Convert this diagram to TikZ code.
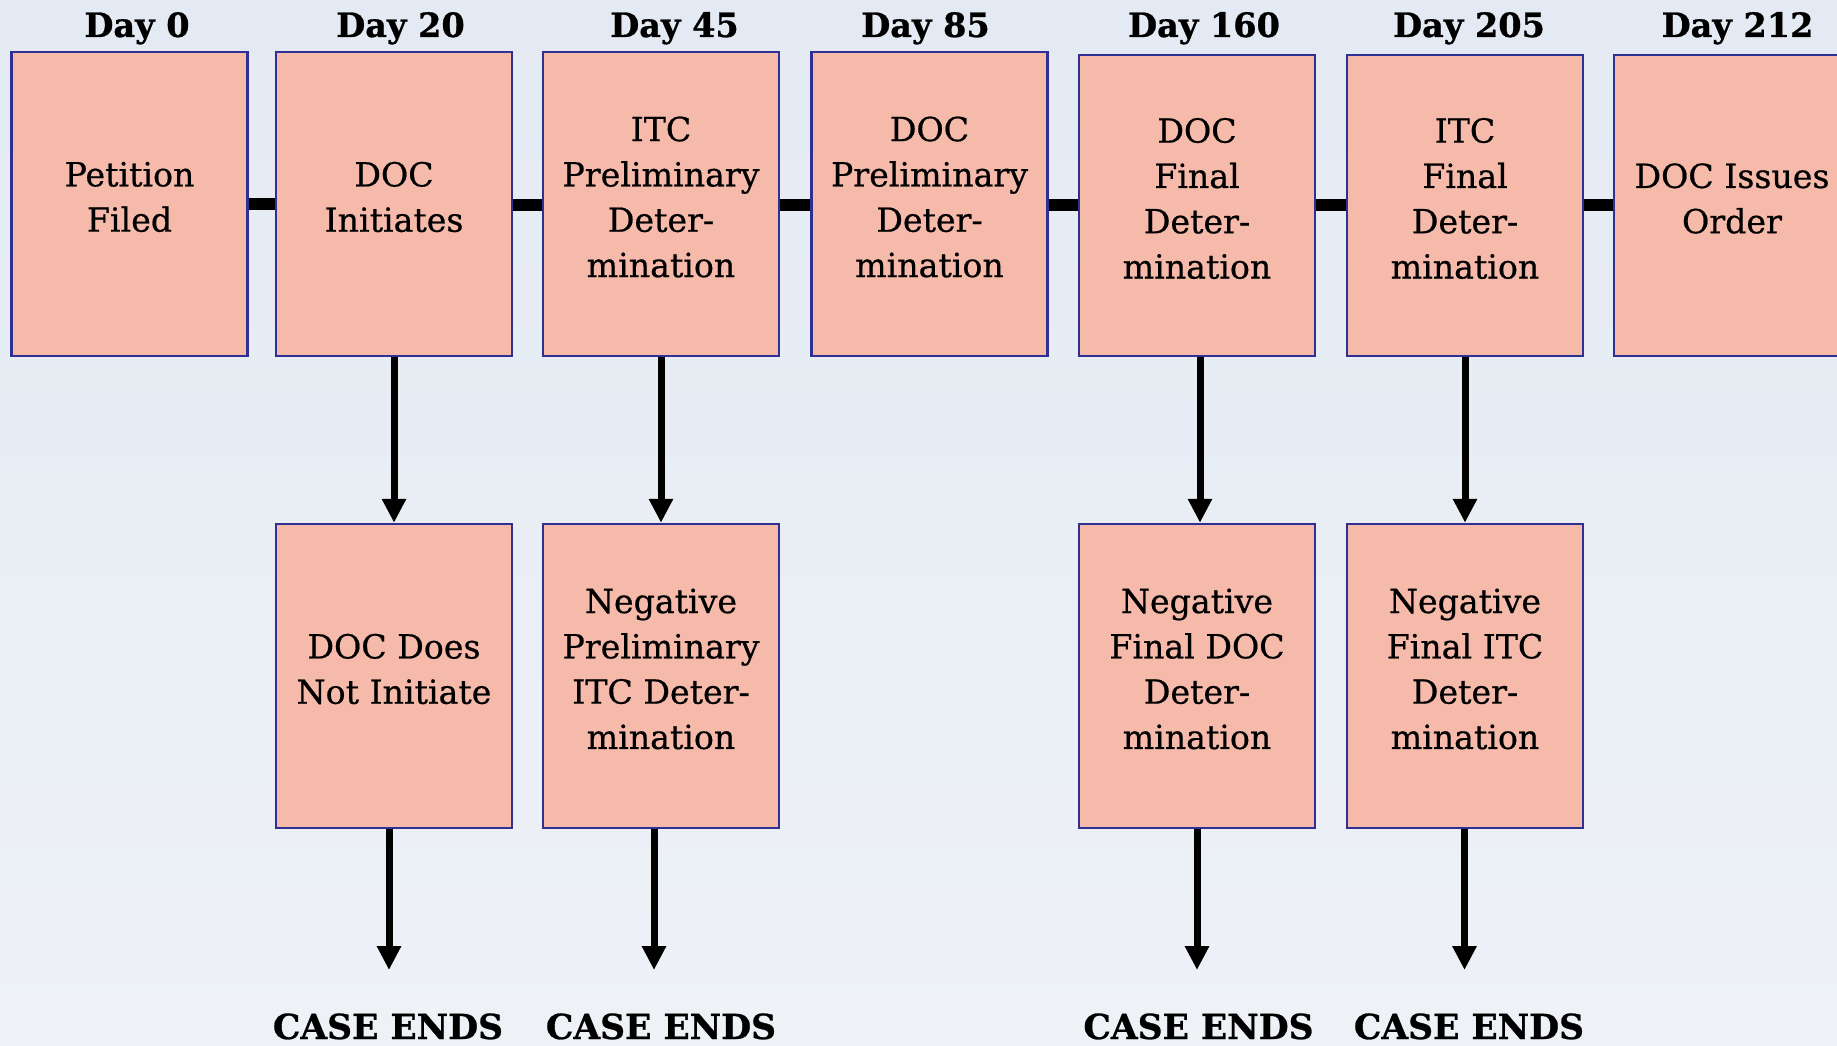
\documentclass[tikz,border=0pt]{standalone}
\usepackage{fontspec}
\setmainfont{DejaVu Serif}
\newfontfamily\boxfont[FakeBold=0.6]{DejaVu Serif}
\newfontfamily\headfont[FakeBold=0.8]{DejaVu Serif Bold}
\usetikzlibrary{arrows.meta}
\definecolor{boxfill}{RGB}{246,186,171}
\definecolor{boxline}{RGB}{46,49,146}
\definecolor{bgtop}{RGB}{228,234,243}
\definecolor{bgbot}{RGB}{238,242,247}
\tikzset{
  stagebox/.style={draw=boxline, line width=2.5pt, fill=boxfill, minimum width=236pt,
    inner sep=0pt},
  boxtext/.style={align=center, text=black, inner sep=0pt,
    font=\boxfont\fontsize{33.2}{45.3}\selectfont},
  daylabel/.style={anchor=base, font=\headfont\fontsize{33.5}{36}\selectfont, inner sep=0pt},
  endlabel/.style={anchor=base, font=\headfont\fontsize{34.5}{36}\selectfont, inner sep=0pt},
  linkbar/.style={line width=12pt, draw=black},
  downarrow/.style={line width=7pt, draw=black, -{Triangle[width=23pt,length=24pt]}}
}
\begin{document}
\begin{tikzpicture}[x=1pt,y=-1pt]
\useasboundingbox (0,0) rectangle (1837,1046);
\shade[top color=bgtop, bottom color=bgbot] (0,0) rectangle (1837,1046);

% top row boxes
\node[stagebox, minimum height=304pt] (b1) at (129.5,204) {};
\node[stagebox, minimum height=304pt] (b2) at (394,204) {};
\node[stagebox, minimum height=304pt] (b3) at (661,204) {};
\node[stagebox, minimum height=304pt] (b4) at (929.5,204) {};
\node[stagebox, minimum height=301pt] (b5) at (1197,205.5) {};
\node[stagebox, minimum height=301pt] (b6) at (1465,205.5) {};
\node[stagebox, minimum height=301pt] (b7) at (1732,205.5) {};
\node[boxtext] (b1t) at ([yshift=7pt]b1.center) {Petition\\Filed};
\node[boxtext] (b2t) at ([yshift=7pt]b2.center) {DOC\\Initiates};
\node[boxtext] (b3t) at ([yshift=7pt]b3.center) {ITC\\Preliminary\\Deter-\\mination};
\node[boxtext] (b4t) at ([yshift=7pt]b4.center) {DOC\\Preliminary\\Deter-\\mination};
\node[boxtext] (b5t) at ([yshift=7pt]b5.center) {DOC\\Final\\Deter-\\mination};
\node[boxtext] (b6t) at ([yshift=7pt]b6.center) {ITC\\Final\\Deter-\\mination};
\node[boxtext] (b7t) at ([yshift=7pt]b7.center) {DOC Issues\\Order};

% day labels
\node[daylabel] (d1) at (137,37) {Day 0};
\node[daylabel] (d2) at (400.5,37) {Day 20};
\node[daylabel] (d3) at (674.5,37) {Day 45};
\node[daylabel] (d4) at (925.5,37) {Day 85};
\node[daylabel] (d5) at (1204,37) {Day 160};
\node[daylabel] (d6) at (1469,37) {Day 205};
\node[daylabel] (d7) at (1737.5,37) {Day 212};

% bottom row boxes
\node[stagebox, minimum height=304pt] (n2) at (394,676) {};
\node[stagebox, minimum height=304pt] (n3) at (661,676) {};
\node[stagebox, minimum height=304pt] (n5) at (1197,676) {};
\node[stagebox, minimum height=304pt] (n6) at (1465,676) {};
\node[boxtext] (n2t) at ([yshift=7pt]n2.center) {DOC Does\\Not Initiate};
\node[boxtext] (n3t) at ([yshift=7pt]n3.center) {Negative\\Preliminary\\ITC Deter-\\mination};
\node[boxtext] (n5t) at ([yshift=7pt]n5.center) {Negative\\Final DOC\\Deter-\\mination};
\node[boxtext] (n6t) at ([yshift=7pt]n6.center) {Negative\\Final ITC\\Deter-\\mination};

% case ends
\node[endlabel] (e2) at (388,1039) {CASE ENDS};
\node[endlabel] (e3) at (661,1039) {CASE ENDS};
\node[endlabel] (e5) at (1198.5,1039) {CASE ENDS};
\node[endlabel] (e6) at (1469,1039) {CASE ENDS};
\coordinate (t2) at (389,970);
\coordinate (t3) at (654,970);
\coordinate (t5) at (1197,970);
\coordinate (t6) at (1464.5,970);

% horizontal links
\draw[linkbar] (b1.east |- 0,204) -- (b2.west |- 0,204);
\draw[linkbar] (b2.east |- 0,205) -- (b3.west |- 0,205);
\draw[linkbar] (b3.east |- 0,205) -- (b4.west |- 0,205);
\draw[linkbar] (b4.east |- 0,205) -- (b5.west |- 0,205);
\draw[linkbar] (b5.east |- 0,205) -- (b6.west |- 0,205);
\draw[linkbar] (b6.east |- 0,205) -- (b7.west |- 0,205);

% vertical arrows
\draw[downarrow] (b2.south) -- (n2.north);
\draw[downarrow] (b3.south) -- (n3.north);
\draw[downarrow] ([xshift=3pt]b5.south) -- ([xshift=3pt]n5.north);
\draw[downarrow] (b6.south) -- (n6.north);

\draw[downarrow] (n2.south -| t2) -- (t2);
\draw[downarrow] (n3.south -| t3) -- (t3);
\draw[downarrow] (n5.south -| t5) -- (t5);
\draw[downarrow] (n6.south -| t6) -- (t6);
\end{tikzpicture}
\end{document}
